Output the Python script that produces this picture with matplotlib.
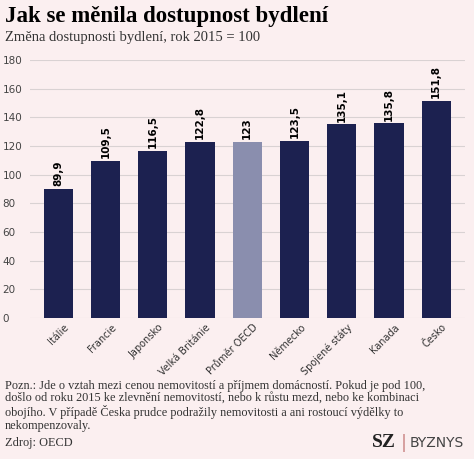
import matplotlib.pyplot as plt

countries = ["Itálie", "Francie", "Japonsko", "Velká Británie", "Průměr OECD",
             "Německo", "Spojené státy", "Kanada", "Česko"]
values = [89.9, 109.5, 116.5, 122.8, 123, 123.5, 135.1, 135.8, 151.8]
labels = ["89,9", "109,5", "116,5", "122,8", "123", "123,5", "135,1", "135,8", "151,8"]

bg = "#fbeff0"
fig = plt.figure(figsize=(4.74, 4.59), dpi=100, facecolor=bg)
ax = fig.add_axes([0.063, 0.307, 0.917, 0.562], facecolor=bg)

colors = ["#8a8eae" if c == "Průměr OECD" else "#1c2150" for c in countries]
x = range(len(countries))
ax.bar(x, values, width=0.62, color=colors, zorder=2)
for i, (v, l) in enumerate(zip(values, labels)):
    ax.text(i, v + 2, l, rotation=90, ha="center", va="bottom",
            fontsize=7.5, fontweight="bold", family="DejaVu Sans")

ax.set_ylim(0, 180)
ax.set_xlim(-0.6, len(countries) - 0.4)
ax.set_yticks(range(0, 181, 20))
ax.grid(axis="y", color="#d9d2d3", lw=0.8, zorder=0)
ax.tick_params(axis="y", length=0, labelsize=7.5, colors="#444444", pad=4)
ax.tick_params(axis="x", length=0, labelsize=7, colors="#333333", pad=3)
ax.set_xticks([i + 0.12 for i in x])
ax.set_xticklabels(countries, rotation=45, ha="right", rotation_mode="anchor")
for lab in ax.get_yticklabels():
    lab.set_horizontalalignment("left")
    lab.set_x(-0.05)
for s in ax.spines.values():
    s.set_visible(False)

fig.text(0.01, 0.965, "Jak se měnila dostupnost bydlení", fontsize=16.5,
         fontweight="bold", family="Liberation Serif", va="center")
fig.text(0.01, 0.918, "Změna dostupnosti bydlení, rok 2015 = 100", fontsize=10.5,
         family="Liberation Serif", color="#333333", va="center")
note = ("Pozn.: Jde o vztah mezi cenou nemovitostí a příjmem domácností. Pokud je pod 100,\n"
        "došlo od roku 2015 ke zlevnění nemovitostí, nebo k růstu mezd, nebo ke kombinaci\n"
        "obojího. V případě Česka prudce podražily nemovitosti a ani rostoucí výdělky to\n"
        "nekompenzovaly.")
fig.text(0.01, 0.172, note, fontsize=8.8, family="Liberation Serif", color="#333333",
         va="top", linespacing=1.05)
fig.text(0.01, 0.035, "Zdroj: OECD", fontsize=8.8, family="Liberation Serif",
         color="#333333", va="center")
fig.text(0.785, 0.035, "SZ", fontsize=14, fontweight="bold", family="Liberation Serif",
         color="#222222", va="center")
fig.text(0.845, 0.035, "|", fontsize=13, color="#cc8888", va="center")
fig.text(0.865, 0.035, "BYZNYS", fontsize=10, family="DejaVu Sans",
         color="#444444", va="center")

fig.savefig("out.png", dpi=100, facecolor=bg)
